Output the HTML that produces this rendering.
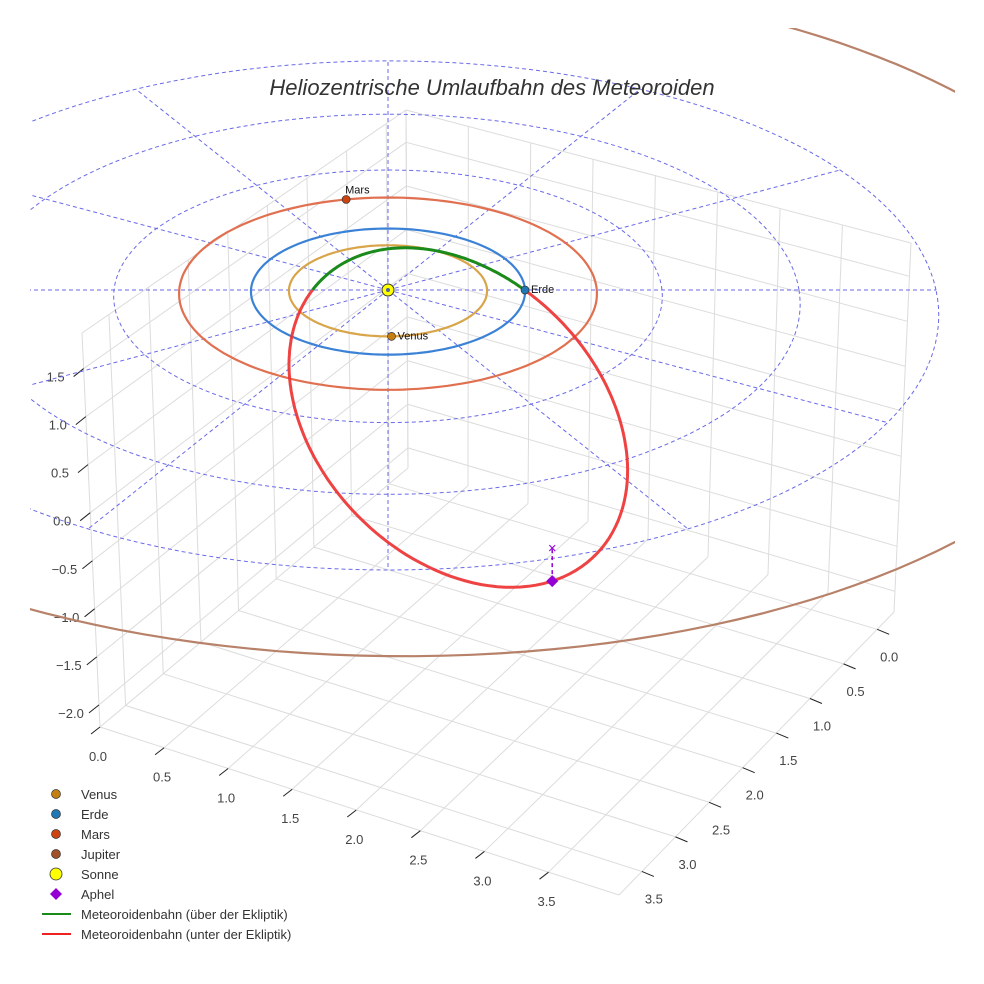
<!DOCTYPE html>
<html><head><meta charset="utf-8">
<style>
html,body{margin:0;padding:0;background:#fff;}
svg{display:block;font-family:"Liberation Sans",sans-serif;}
</style></head>
<body>
<svg id="chart" width="984" height="984" viewBox="0 0 984 984">
  <defs><clipPath id="sceneClip"><rect x="30" y="28" width="925" height="956"/></clipPath></defs>
  <rect x="0" y="0" width="984" height="984" fill="#fff"/>
  <g id="box"></g>
  <g id="eclip" clip-path="url(#sceneClip)"></g>
  <g id="orbits" clip-path="url(#sceneClip)"></g>
  <g id="marks"></g>
  <text x="492" y="95" text-anchor="middle" font-size="22" font-style="italic" fill="#333">Heliozentrische Umlaufbahn des Meteoroiden</text>
  <g id="legend">
    <g><circle cx="56" cy="794" r="4.5" fill="#c47f12" stroke="#333" stroke-width="0.7"/><text x="81" y="799" font-size="13" fill="#333">Venus</text></g>
    <g><circle cx="56" cy="814" r="4.5" fill="#1f77b4" stroke="#333" stroke-width="0.7"/><text x="81" y="819" font-size="13" fill="#333">Erde</text></g>
    <g><circle cx="56" cy="834" r="4.5" fill="#cc4411" stroke="#333" stroke-width="0.7"/><text x="81" y="839" font-size="13" fill="#333">Mars</text></g>
    <g><circle cx="56" cy="854" r="4.5" fill="#a0522d" stroke="#333" stroke-width="0.7"/><text x="81" y="859" font-size="13" fill="#333">Jupiter</text></g>
    <g><circle cx="56" cy="874" r="6" fill="#ffff00" stroke="#333" stroke-width="0.8"/><text x="81" y="879" font-size="13" fill="#333">Sonne</text></g>
    <g><polygon points="56,888 62,894 56,900 50,894" fill="#9400d3"/><text x="81" y="899" font-size="13" fill="#333">Aphel</text></g>
    <g><line x1="42" y1="914" x2="71" y2="914" stroke="#1a8a1a" stroke-width="2"/><text x="81" y="919" font-size="13" fill="#333">Meteoroidenbahn (über der Ekliptik)</text></g>
    <g><line x1="42" y1="934" x2="71" y2="934" stroke="#ee2222" stroke-width="2"/><text x="81" y="939" font-size="13" fill="#333">Meteoroidenbahn (unter der Ekliptik)</text></g>
  </g>
</svg>
<script>
// ---- data ----
const xTicks = [0, 0.5, 1, 1.5, 2, 2.5, 3, 3.5];
const yTicks = [0, 0.5, 1, 1.5, 2, 2.5, 3, 3.5];
const zTicks = [-2, -1.5, -1, -0.5, 0, 0.5, 1, 1.5];
const xRange = [0, 4.05];
const yRange = [-0.25, 3.84];
const zRange = [-2.23, 1.87];
const planetNames = ['Venus', 'Erde', 'Mars', 'Jupiter'];
const planetRadii = [0.723, 1.0, 1.524, 5.38];
const planetEcc = [0, 0, 0, 0.06];
const planetPeri = [0, 0, 0, -110];
const planetAngles = [-88, 0, 102, -30];
const planetOrbitColors = ['#d9a54a', '#3b82d6', '#e07050', '#b8826a'];
const planetColors = ['#c47f12', '#1f77b4', '#cc4411', '#a0522d'];
const ringRadii = [1, 2, 3, 4];
const spokeAngles = [0, 30, 60, 90, 120, 150, 180, 210, 240, 270, 300, 330];
const meteorP = [0.71];
const meteorE = [0.76];
const meteorOmega = [112.3];
const meteorIncl = [22];

const NS = 'http://www.w3.org/2000/svg';
function mk(tag, attrs, parent) {
  const el = document.createElementNS(NS, tag);
  for (const k in attrs) el.setAttribute(k, attrs[k]);
  parent.appendChild(el);
  return el;
}
function proj(u, v, z) {
  const d = 1 / (1 + 0.025 * v);
  return [388 + 137 * u * d, 290 - 63 * v * d - 110 * z * d];
}
function lerp(a, b, t) { return [a[0] + (b[0] - a[0]) * t, a[1] + (b[1] - a[1]) * t]; }
function bil(c00, c10, c11, c01, s, t) { return lerp(lerp(c00, c10, s), lerp(c01, c11, s), t); }

// ---- box ----
const A = [100, 727], B = [619, 895], C = [894, 612], D = [408, 468];
const A2 = [82, 333], D2 = [406, 110], C2 = [911, 243];
const box = document.getElementById('box');
function sx(x) { return (x - xRange[0]) / (xRange[1] - xRange[0]); }
function sy(y) { return (y - yRange[0]) / (yRange[1] - yRange[0]); }
function sz(z) { return (z - zRange[0]) / (zRange[1] - zRange[0]); }
function gl(p, q, name) {
  const l = mk('line', {x1: p[0], y1: p[1], x2: q[0], y2: q[1], stroke: '#dcdcdc', 'stroke-width': 1}, box);
  
  
}
function floorPt(x, y) { return bil(D, C, B, A, sx(x), sy(y)); }
function leftPt(y, z) { return bil(D, A, A2, D2, sy(y), sz(z)); }
function rightPt(x, z) { return bil(D, C, C2, D2, sx(x), sz(z)); }
xTicks.forEach(x => { gl(floorPt(x, yRange[0]), floorPt(x, yRange[1]), 'floor-grid-x'); gl(rightPt(x, zRange[0]), rightPt(x, zRange[1]), 'wall-grid-x'); });
yTicks.forEach(y => { gl(floorPt(xRange[0], y), floorPt(xRange[1], y), 'floor-grid-y'); gl(leftPt(y, zRange[0]), leftPt(y, zRange[1]), 'wall-grid-y'); });
zTicks.forEach(z => { gl(leftPt(yRange[1], z), leftPt(yRange[0], z), 'left-wall-grid-z'); gl(rightPt(xRange[0], z), rightPt(xRange[1], z), 'right-wall-grid-z'); });
gl(A, B, 'x-axis-line'); gl(B, C, 'y-axis-line'); gl(A, A2, 'z-axis-line');
gl(D, D2, 'back-edge'); gl(A2, D2, 'left-top-edge'); gl(D2, C2, 'right-top-edge'); gl(C, C2, 'right-edge');
function tick(p, dx, dy, lx, ly, txt, name) {
  const l = mk('line', {x1: p[0], y1: p[1], x2: p[0] + dx, y2: p[1] + dy, stroke: '#222', 'stroke-width': 1}, box);
  
  
  const t = mk('text', {x: p[0] + lx, y: p[1] + ly, 'text-anchor': 'middle', 'font-size': 13, fill: '#444'}, box);
  t.textContent = txt;
  
  
}
function fmt(v) { return (v < 0 ? '\u2212' : '') + Math.abs(v).toFixed(1); }
xTicks.forEach(x => tick(floorPt(x, yRange[1]), -9, 7, -2, 34, fmt(x), 'x-axis'));
yTicks.forEach(y => tick(floorPt(xRange[1], y), 12, 5, 12, 32, fmt(y), 'y-axis'));
zTicks.forEach(z => tick(leftPt(yRange[1], z), -10, 8, -28, 13, fmt(z), 'z-axis'));

// ---- ecliptic rings & spokes ----
const ecl = document.getElementById('eclip');
function ringPath(r, e, peri) {
  e = e || 0; const w = (peri || 0) * Math.PI / 180;
  let d = '';
  for (let a = 0; a <= 360; a += 2) {
    const th = a * Math.PI / 180;
    const rr = r * (1 - e * e) / (1 + e * Math.cos(th - w));
    const p = proj(rr * Math.cos(th), rr * Math.sin(th), 0);
    d += (a === 0 ? 'M' : 'L') + p[0].toFixed(1) + ',' + p[1].toFixed(1);
  }
  return d;
}
ringRadii.forEach(r => {
  const el = mk('path', {d: ringPath(r), fill: 'none', stroke: '#6a6ae8', 'stroke-width': 1, 'stroke-dasharray': '4,3'}, ecl);
  
  
});
spokeAngles.forEach(a => {
  const th = a * Math.PI / 180;
  const R = ringRadii[ringRadii.length - 1];
  const p = proj(0, 0, 0), q = proj(R * Math.cos(th), R * Math.sin(th), 0);
  const el = mk('line', {x1: p[0], y1: p[1], x2: q[0], y2: q[1], stroke: '#6a6ae8', 'stroke-width': 1, 'stroke-dasharray': '4,3'}, ecl);
  
  
});

// ---- planet orbits ----
const orb = document.getElementById('orbits');
planetRadii.forEach((r, i) => {
  const el = mk('path', {d: ringPath(r, planetEcc[i], planetPeri[i]), fill: 'none', stroke: planetOrbitColors[i], 'stroke-width': 2.2}, orb);
  
  
});

// ---- meteoroid orbit ----
const p0 = meteorP[0], e0 = meteorE[0], om = meteorOmega[0] * Math.PI / 180, inc = meteorIncl[0] * Math.PI / 180;
function meteor(thDeg) {
  const th = thDeg * Math.PI / 180;
  const r = p0 / (1 + e0 * Math.cos(th - om));
  return [r * Math.cos(th), r * Math.sin(th) * Math.cos(inc), r * Math.sin(th) * Math.sin(inc)];
}
let above = '', below = '';
for (let a = 0; a <= 180; a += 1) {
  const m = meteor(a), s = proj(m[0], m[1], m[2]);
  above += (a === 0 ? 'M' : 'L') + s[0].toFixed(1) + ',' + s[1].toFixed(1);
}
for (let a = 180; a <= 360; a += 1) {
  const m = meteor(a), s = proj(m[0], m[1], m[2]);
  below += (a === 180 ? 'M' : 'L') + s[0].toFixed(1) + ',' + s[1].toFixed(1);
}
const gP = mk('path', {d: above, fill: 'none', stroke: '#1a8a1a', 'stroke-width': 3}, orb);


const rP = mk('path', {d: below, fill: 'none', stroke: '#ee3333', 'stroke-width': 3, 'stroke-opacity': 0.92}, orb);



// ---- markers ----
const mg = document.getElementById('marks');
planetRadii.forEach((r, i) => {
  const th = planetAngles[i] * Math.PI / 180;
  const s = proj(r * Math.cos(th), r * Math.sin(th), 0);
  if (s[0] > 980) return;
  const c = mk('circle', {cx: s[0], cy: s[1], r: 4, fill: planetColors[i], stroke: '#333', 'stroke-width': 0.7}, mg);
  
  
  const t = mk('text', {x: s[0] + (i === 2 ? -1 : 6), y: s[1] + (i === 2 ? -6 : 3), 'font-size': 11, fill: '#111'}, mg);
  t.textContent = planetNames[i];
  
  
});
const sun = proj(0, 0, 0);
const sc = mk('circle', {cx: sun[0], cy: sun[1], r: 6, fill: '#ffff00', stroke: '#333', 'stroke-width': 1}, mg);


const sd = mk('circle', {cx: sun[0], cy: sun[1], r: 2, fill: '#5560a0'}, mg);


const aphTh = meteorOmega[0] + 180;
const am = meteor(aphTh), as = proj(am[0], am[1], am[2]);
const al = mk('line', {x1: as[0], y1: as[1], x2: as[0], y2: as[1] - 33, stroke: '#9400d3', 'stroke-width': 1.5, 'stroke-dasharray': '4,3'}, mg);


const ax = mk('text', {x: as[0], y: as[1] - 28, 'text-anchor': 'middle', 'font-size': 15, fill: '#9400d3'}, mg);
ax.textContent = '×';


const ad = mk('polygon', {points: [as[0], as[1] - 6, as[0] + 6, as[1], as[0], as[1] + 6, as[0] - 6, as[1]].join(','), fill: '#9400d3'}, mg);


</script>
</body></html>
